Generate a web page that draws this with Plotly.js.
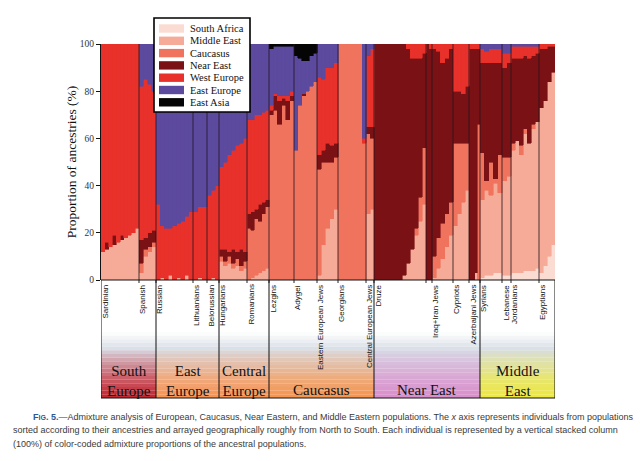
<!DOCTYPE html>
<html><head><meta charset="utf-8">
<script src="https://cdn.plot.ly/plotly-3.0.1.min.js"></script>
<style>html,body{margin:0;padding:0;background:#fff}#chart{width:640px;height:461px}</style>
</head><body><div id="chart"></div>
<script>
// ---- data (per population, one value per plotted column) ----
const populations = ['Sardinian','Spanish','Russian','Lithuanians','Belorussian','Hungarians','Romanians',
  'Lezgins','Adygei','Eastern European Jews','Georgians','Central European Jews',
  'Druze','','Iraq+Iran Jews','Cypriots','Azerbaijani Jews',
  'Syrians','Lebanese','Jordanians','Egyptians'];
const popSizes = [38,17,37,14,12,28,22,25,23,21,28,8,52,6,21,16,11,22,9,28,16];
const regionNames = ['South<br>Europe','East<br>Europe','Central<br>Europe','Caucasus','Near East','Middle<br>East'];
const regionPopCounts = [2,3,2,5,5,4];
const regionColors = ['#c4222c','#fa914e','#fa914e','#f8934a','#da8ccb','#efe93a'];
const ancestries = ['South Africa','Middle East','Caucasus','Near East','West Europe','East Europe','East Asia'];
const ancestryColors = ['#fbdcd2','#f5ab97','#f0735e','#7a1215','#e8312a','#5c4a9e','#050505'];
const yTicks = [0,20,40,60,80,100];

const southAfrica = [
  [0,0,0,0,0,0,0,0,0,0],[0,0,0,0],[0,0,0,0,0,0,0,0,0],[0,0,0],[0,0,0],[0,0,0,0,0,0,0],[0,0,0,0,0,0],
  [0,0,0,0,0,0],[0,0,0,0,0,0],[0,0,0,0,0],[0,0,0,0,0,0,0],[0,0],
  [0,0,0,0,0,0,0,0,0,0,0,0,0],[0,0],[0,0,0,0,0],[0,0,0,0],[0,0,0,0],
  [1,2,2,3,3],[2,2],[3,3,3,4,4,4,5],[3,6,10,15]];
const middleEast = [
  [12,13,14,15,16,17,18,19,20,22],[3,10,12,14],[0,1,0,2,0,1,0,2,0],[0,1,0],[0,1,0],[8,6,7,5,6,4,5],[0,1,2,3,4,5],
  [0,0,0,0,0,0],[0,0,0,0,0,0],[2,15,22,26,30],[0,0,0,0,0,0,0],[28,30],
  [0,0,0,0,0,0,0,2,7,13,19,25,32],[0,0],[1,5,9,14,19],[23,28,33,38],[0,0,3,0],
  [33,36,34,38,34],[40,42],[52,56,50,58,54,60,62],[70,70,74,73]];
const caucasus = [
  [0,0,0,0,0,0,0,0,0,0],[4,3,2,2],[0,0,0,0,0,0,0,0,0],[0,0,0],[0,0,0],[2,2,3,2,3,2,3],[22,20,24,22,24,26],
  [70,72,66,74,68,76],[55,74,78,80,82,84],[45,35,28,24,22],[100,100,100,100,100,100,58],[34,30],
  [0,0,0,0,0,0,0,0,0,0,3,10,24],[0,0],[9,13,15,14,14],[35,30,25,20],[0,0,0,66],
  [20,4,14,2,16],[10,8],[3,0,4,2,0,2,0],[0,0,0,0]];
const nearEast = [
  [0,3,0,4,0,2,0,0,0,0],[10,5,6,5],[0,0,0,0,0,0,0,0,0],[0,0,0],[0,0,0],[3,5,2,6,3,7,4],[6,8,4,7,5,3],
  [2,6,10,3,8,2],[0,0,1,0,0,0],[6,5,8,7,6],[0,0,0,0,0,0,0],[3,5],
  [100,100,100,100,100,100,100,98,91,81,72,59,40],[100,98],[88,79,68,66,65],[22,22,21,24],[98,98,95,32],
  [38,50,42,49,39],[38,40],[36,35,37,31,36,29,29],[25,22,15,11]];
const westEurope = [
  [88,84,86,81,84,81,82,81,80,78],[65,67,63,59],[32,22,22,20,23,23,25,25,29],[29,30,31],[36,37,40],[35,37,41,42,45,45,48],[40,39,40,38,38,38],
  [2,1,2,1,2,2],[0,0,0,0,0,0],[33,30,32,33,34],[0,0,0,0,0,0,2],[30,33],
  [0,0,0,0,0,0,0,0,2,6,6,6,4],[0,2],[2,3,8,6,2],[20,20,21,18],[2,2,2,2],
  [6,5,6,6,6],[6,4],[5,5,5,4,5,4,3],[2,2,1,1]];
const eastEurope = [
  [0,0,0,0,0,0,0,0,0,0],[18,15,17,20],[68,77,78,78,77,76,75,73,71],[71,69,69],[64,62,60],[52,50,47,45,43,42,40],[32,32,30,30,29,28],
  [24,20,21,21,21,19],[40,20,14,13,13,12],[14,15,10,10,8],[0,0,0,0,0,0,40],[5,2],
  [0,0,0,0,0,0,0,0,0,0,0,0,0],[0,0],[0,0,0,0,0],[0,0,0,0],[0,0,0,0],
  [2,3,2,2,2],[4,4],[1,1,1,1,1,1,1],[0,0,0,0]];
const eastAsia = [
  [0,0,0,0,0,0,0,0,0,0],[0,0,0,0],[0,0,0,0,0,0,0,0,0],[0,0,0],[0,0,0],[0,0,0,0,0,0,0],[0,0,0,0,0,0],
  [2,1,1,1,1,1],[5,6,7,7,5,4],[0,0,0,0,0],[0,0,0,0,0,0,0],[0,0],
  [0,0,0,0,0,0,0,0,0,0,0,0,0],[0,0],[0,0,0,0,0],[0,0,0,0],[0,0,0,0],
  [0,0,0,0,0],[0,0],[0,0,0,0,0,0,0],[0,0,0,0]];

const captionLines = [
  "<span style='color:#2c5896'><b>F<span style='font-size:7px'>IG</span>. 5.</b></span>\u2014Admixture analysis of European, Caucasus, Near Eastern, and Middle Eastern populations. The <i>x</i> axis represents individuals from populations",
  "sorted according to their ancestries and arrayed geographically roughly from North to South. Each individual is represented by a vertical stacked column",
  "(100%) of color-coded admixture proportions of the ancestral populations."
];

// ---- build ----
const SERIF = 'Liberation Serif';
const SANS = 'Liberation Sans';
const series = [southAfrica, middleEast, caucasus, nearEast, westEurope, eastEurope, eastAsia];
const popStarts = []; let acc = 0;
popSizes.forEach(s => { popStarts.push(acc); acc += s; });
const total = acc;
const xs = [], ws = [];
populations.forEach((p, i) => {
  const k = southAfrica[i].length, w = popSizes[i] / k;
  for (let j = 0; j < k; j++) { xs.push(popStarts[i] + (j + 0.5) * w); ws.push(w); }
});
const traces = series.map((s, a) => {
  const y = s.flat();
  return {type:'bar', name:ancestries[a], x:xs, y:y, width:ws,
    marker:{color:ancestryColors[a], line:{color:ancestryColors[a], width:y.map(v => v > 0 ? 0.6 : 0)}},
    showlegend:false, hoverinfo:'skip'};
});

// pixel helpers for decorations (plot area: x 101..555, y 44..280)
const PX = px => (px - 101) / 454;
const PY = py => (280 - py) / 236;

const shapes = [], annotations = [];
const top0 = [255,255,255], mid = [215,221,230];
function hex(c){return [parseInt(c.substr(1,2),16),parseInt(c.substr(3,2),16),parseInt(c.substr(5,2),16)];}
function lerp(a,b,t){return a.map((v,i)=>Math.round(v+(b[i]-v)*t));}
let pi = 0;
const regionBounds = [];
regionPopCounts.forEach((n, r) => {
  const x0 = popStarts[pi], x1 = (pi + n < popStarts.length) ? popStarts[pi + n] : total;
  regionBounds.push([x0, x1]);
  const col = hex(regionColors[r]);
  const yA = 332, yB = 350, yC = 398, N = 18;
  for (let s = 0; s < N; s++) {
    const ya = yA + (yC - yA) * s / N, yb = yA + (yC - yA) * (s + 1) / N, ym = (ya + yb) / 2;
    const c = ym < yB ? lerp(top0, mid, (ym - yA) / (yB - yA)) : lerp(mid, col, Math.pow((ym - yB) / (yC - yB), 0.75));
    shapes.push({type:'rect', xref:'x', yref:'paper', x0:x0, x1:x1, y0:PY(yb), y1:PY(ya),
      fillcolor:'rgb(' + c.join(',') + ')', line:{width:0}, layer:'above'});
  }
  const twoLine = regionNames[r].indexOf('<br>') >= 0;
  annotations.push({xref:'x', yref:'paper', x:(x0 + x1) / 2, y:PY(twoLine ? 381 : 389.5), text:regionNames[r],
    showarrow:false, xanchor:'center', yanchor:'middle',
    font:{family:SERIF, size:15, color:'#111'}});
  pi += n;
});
// population separators in the plot
popStarts.slice(1).forEach(x => {
  shapes.push({type:'line', xref:'x', yref:'y', x0:x, x1:x, y0:0, y1:100, line:{color:'rgba(35,20,30,0.8)', width:1}, layer:'above'});
  shapes.push({type:'line', xref:'x', yref:'paper', x0:x, x1:x, y0:0, y1:PY(283), line:{color:'#222', width:1}, layer:'above'});
});
// panel frame and region dividers
shapes.push({type:'rect', xref:'x', yref:'paper', x0:0, x1:total, y0:PY(398), y1:0, line:{color:'#111', width:1}, fillcolor:'rgba(0,0,0,0)', layer:'above'});
regionBounds.slice(1).forEach(b => {
  shapes.push({type:'line', xref:'x', yref:'paper', x0:b[0], x1:b[0], y0:PY(398), y1:0, line:{color:'#111', width:1}, layer:'above'});
});
// population labels
populations.forEach((p, i) => {
  if (!p) return;
  annotations.push({xref:'x', yref:'paper', x:popStarts[i] + 3.5, y:PY(284), text:p, textangle:-90,
    showarrow:false, xanchor:'center', yanchor:'top', borderpad:0,
    font:{family:SANS, size:8, color:'#111'}});
});
// custom legend
shapes.push({type:'rect', xref:'paper', yref:'paper', x0:PX(154), x1:PX(250), y0:PY(112), y1:PY(18),
  fillcolor:'#fff', line:{color:'#000', width:1.6}, layer:'above'});
ancestries.forEach((a, i) => {
  const c = 28.5 + 12.3 * i;
  shapes.push({type:'rect', xref:'paper', yref:'paper', x0:PX(159), x1:PX(184), y0:PY(c + 4.2), y1:PY(c - 4.2),
    fillcolor:ancestryColors[i], line:{width:0}, layer:'above'});
  annotations.push({xref:'paper', yref:'paper', x:PX(189), y:PY(c), text:a, showarrow:false,
    xanchor:'left', yanchor:'middle', borderpad:0,
    font:{family:SERIF, size:10.5, color:'#111'}});
});
// caption
const capX = [32, 12, 12], capY = [416.5, 430, 443.5];
captionLines.forEach((t, i) => {
  annotations.push({xref:'paper', yref:'paper', x:PX(capX[i]), y:PY(capY[i]), text:t, showarrow:false,
    xanchor:'left', yanchor:'middle', borderpad:0,
    font:{family:SANS, size:9.0, color:'#3a3a3a'}});
});

const layout = {
  width:640, height:461, margin:{l:101, r:85, t:44, b:181},
  paper_bgcolor:'#fff', plot_bgcolor:'#fff', barmode:'stack', bargap:0,
  font:{family:SERIF},
  xaxis:{range:[0, total], visible:false, fixedrange:true},
  yaxis:{range:[0,100], tickvals:yTicks, ticktext:yTicks.map(String), ticks:'outside', ticklen:4, tickcolor:'#111',
    showline:true, linecolor:'#111', linewidth:1, showgrid:false, zeroline:false, automargin:false,
    tickfont:{family:SERIF, size:9.5, color:'#333'},
    title:{text:'Proportion of ancestries (%)', standoff:0,
      font:{family:SERIF, size:13.5, color:'#111'}}},
  shapes:shapes, annotations:annotations, showlegend:false
};
Plotly.newPlot('chart', traces, layout, {staticPlot:true, displayModeBar:false});
</script></body></html>
